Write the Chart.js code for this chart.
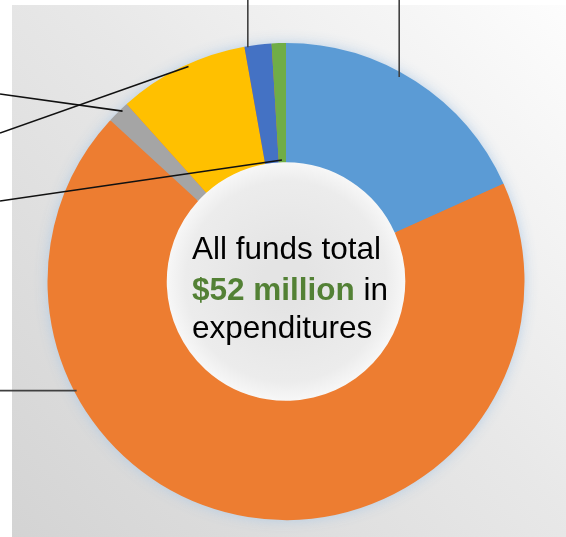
<!DOCTYPE html>
<html>
<head>
<meta charset="utf-8">
<script src="https://cdn.jsdelivr.net/npm/chart.js@4"></script>
<style>
  html, body { margin: 0; padding: 0; background: #fff; }
  #wrap { width: 566px; height: 537px; }
</style>
</head>
<body>
<div id="wrap"><canvas id="fundsChart" width="566" height="537"></canvas></div>
<script>
// ── Données ($ millions) ──
const categories = ['Fund A', 'Fund B', 'Fund C', 'Fund D', 'Fund E', 'Fund F'];
const expenditures = [9.5, 35.6, 0.8, 4.6, 0.95, 0.5];
const sliceColors = ['#5b9bd5', '#ed7d31', '#a5a5a5', '#ffc000', '#4472c4', '#70ad47'];
const centerLines = ['All funds total', '$52 million', ' in', 'expenditures'];

// Traits de rappel : tranche, position dans la tranche, rayon relatif, bord de sortie
const leaders = [
  { slice: 4, along: 0.12, radius: 0.995, to: 'top', color: '#404040' },
  { slice: 0, along: 0.44, radius: 0.98, to: 'top', color: '#404040' },
  { slice: 2, along: 0.66, radius: 0.99, to: 'left', y: 94, color: '#111' },
  { slice: 3, along: 0.55, radius: 0.99, to: 'left', y: 133, color: '#111' },
  { slice: 5, along: 0.45, radius: 0.51, to: 'left', y: 201, color: '#111' },
  { slice: 1, along: 0.716, radius: 0.99, to: 'horizontal', color: '#404040' }
];

// ── Fond, halo et centre ──
const decorPlugin = {
  id: 'decor',
  beforeDraw(chart) {
    const { ctx, width, height } = chart;
    ctx.save();
    ctx.fillStyle = '#ffffff';
    ctx.fillRect(0, 0, width, height);
    const g = ctx.createLinearGradient(width, 0, 0, height);
    g.addColorStop(0, '#fdfdfd');
    g.addColorStop(0.45, '#e8e8e8');
    g.addColorStop(1, '#d3d3d3');
    ctx.fillStyle = g;
    ctx.fillRect(12, 5, width - 12, height - 5);
    ctx.restore();
  },
  beforeDatasetsDraw(chart) {
    const arc = chart.getDatasetMeta(0).data[0];
    if (!arc) return;
    const { ctx } = chart;
    const { x, y, outerRadius, innerRadius } = arc.getProps(['x', 'y', 'outerRadius', 'innerRadius'], true);
    ctx.save();
    // halo autour de l'anneau
    ctx.shadowColor = 'rgba(170, 200, 230, 0.9)';
    ctx.shadowBlur = 14;
    ctx.fillStyle = '#ed7d31';
    ctx.beginPath();
    ctx.arc(x, y, outerRadius - 1, 0, Math.PI * 2);
    ctx.fill();
    ctx.restore();
    // trou central
    ctx.save();
    const rg = ctx.createRadialGradient(x, y, innerRadius * 0.2, x, y, innerRadius);
    rg.addColorStop(0, '#e4e4e4');
    rg.addColorStop(0.8, '#ececec');
    rg.addColorStop(1, '#f7f7f7');
    ctx.fillStyle = rg;
    ctx.beginPath();
    ctx.arc(x, y, innerRadius + 1, 0, Math.PI * 2);
    ctx.fill();
    ctx.restore();
  },
  afterDraw(chart) {
    const { ctx } = chart;
    const meta = chart.getDatasetMeta(0);
    const first = meta.data[0];
    const cx = first.x, cy = first.y;

    // traits de rappel
    leaders.forEach(l => {
      const a = meta.data[l.slice];
      const ang = a.startAngle + (a.endAngle - a.startAngle) * l.along;
      const r = a.outerRadius * l.radius;
      const px = a.x + r * Math.cos(ang);
      const py = a.y + r * Math.sin(ang);
      let ex, ey;
      if (l.to === 'top') { ex = px; ey = 0; }
      else if (l.to === 'horizontal') { ex = 0; ey = py; }
      else { ex = 0; ey = l.y; }
      ctx.save();
      ctx.strokeStyle = l.color;
      ctx.lineWidth = 1.6;
      ctx.beginPath();
      ctx.moveTo(ex, ey);
      ctx.lineTo(px, py);
      ctx.stroke();
      ctx.restore();
    });

    // texte central
    ctx.save();
    ctx.textAlign = 'left';
    ctx.textBaseline = 'alphabetic';
    const left = cx - 94;
    ctx.fillStyle = '#000';
    ctx.font = '31.5px "Liberation Sans", Arial, sans-serif';
    ctx.fillText(centerLines[0], left, cy - 23);
    ctx.font = 'bold 31.5px "Liberation Sans", Arial, sans-serif';
    ctx.fillStyle = '#538135';
    ctx.fillText(centerLines[1], left, cy + 18);
    const w = ctx.measureText(centerLines[1]).width;
    ctx.font = '31.5px "Liberation Sans", Arial, sans-serif';
    ctx.fillStyle = '#000';
    ctx.fillText(centerLines[2], left + w, cy + 18);
    ctx.fillText(centerLines[3], left, cy + 56);
    ctx.restore();
  }
};

new Chart(document.getElementById('fundsChart'), {
  type: 'doughnut',
  data: {
    labels: categories,
    datasets: [{
      data: expenditures,
      backgroundColor: sliceColors,
      borderWidth: 0,
      hoverOffset: 0
    }]
  },
  options: {
    responsive: false,
    animation: false,
    cutout: '50%',
    layout: { padding: { left: 47, right: 41, top: 43, bottom: 17 } },
    plugins: {
      legend: { display: false },
      tooltip: { enabled: false }
    }
  },
  plugins: [decorPlugin]
});
</script>
</body>
</html>
